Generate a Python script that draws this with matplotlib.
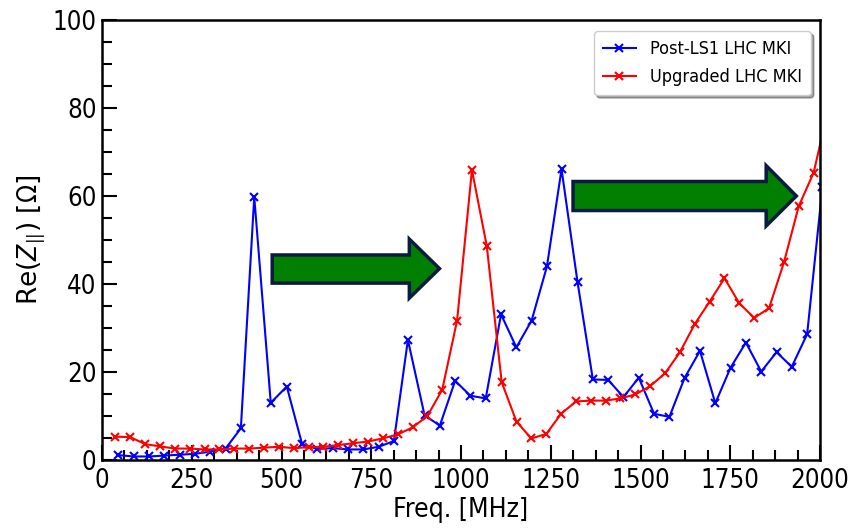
import matplotlib
matplotlib.use("Agg")
import matplotlib.pyplot as plt
from matplotlib.patches import Polygon
from matplotlib.ticker import MultipleLocator

plt.rcParams['font.family'] = ['DejaVu Sans']
plt.rcParams['font.stretch'] = 'condensed'

# Post-LS1 LHC MKI (blue)
freq_post = [45.7, 88.3, 131.0, 173.6, 216.2, 258.9, 301.5, 344.1, 386.7, 424.0,
             470.0, 514.6, 557.3, 599.9, 642.5, 685.2, 727.8, 770.4, 813.0, 852.0,
             898.3, 940.9, 983.6, 1026.2, 1068.8, 1111.5, 1154.1, 1196.7, 1239.3, 1280.0,
             1324.6, 1367.2, 1409.9, 1452.5, 1495.1, 1537.8, 1580.4, 1623.0, 1665.6, 1708.3,
             1750.9, 1793.5, 1836.2, 1878.8, 1921.4, 1964.1, 2006.7]
z_post = [1.1, 0.8, 0.8, 1.0, 1.2, 1.4, 1.9, 2.6, 7.2, 59.8,
          13.0, 16.7, 3.6, 2.5, 2.7, 2.4, 2.4, 3.0, 4.3, 27.3,
          10.2, 7.8, 18.0, 14.6, 14.0, 33.1, 25.6, 31.7, 44.0, 66.1,
          40.4, 18.3, 18.2, 14.3, 18.7, 10.5, 9.8, 18.7, 24.8, 12.9,
          21.0, 26.7, 20.1, 24.5, 21.2, 28.6, 62.0]

# Upgraded LHC MKI (red)
freq_upg = [37.3, 78.7, 120.1, 161.4, 202.8, 244.2, 285.6, 327.0, 368.3, 409.7,
            451.1, 492.5, 533.9, 575.2, 616.6, 658.0, 699.4, 740.8, 782.1, 823.5,
            864.9, 906.3, 947.7, 989.0, 1030.4, 1071.8, 1113.2, 1154.6, 1195.9, 1237.3,
            1278.7, 1320.1, 1361.5, 1402.8, 1444.2, 1485.6, 1527.0, 1568.4, 1609.7, 1651.1,
            1692.5, 1733.9, 1775.3, 1816.6, 1858.0, 1899.4, 1940.8, 1982.2, 2023.6]
z_upg = [5.3, 5.2, 3.6, 3.1, 2.6, 2.6, 2.4, 2.4, 2.6, 2.6,
         2.8, 3.0, 2.7, 2.9, 3.0, 3.4, 3.8, 4.2, 4.9, 5.8,
         7.4, 10.0, 16.0, 31.7, 65.9, 48.6, 17.7, 8.7, 4.9, 5.9,
         10.5, 13.3, 13.5, 13.5, 14.0, 14.9, 16.8, 19.7, 24.5, 30.9,
         36.0, 41.3, 35.6, 32.3, 34.5, 44.9, 57.7, 65.3, 80.0]

labels = ["Post-LS1 LHC MKI", "Upgraded LHC MKI"]

fig = plt.figure(figsize=(8.51, 5.28), dpi=100)
ax = fig.add_axes([0.1199, 0.1288, 0.8437, 0.8333])

ax.plot(freq_post, z_post, color='blue', marker='x', lw=1.5, ms=6, mew=1.5, label=labels[0])
ax.plot(freq_upg, z_upg, color='red', marker='x', lw=1.5, ms=6, mew=1.5, label=labels[1])

ax.set_xlim(0, 2000)
ax.set_ylim(0, 100)
ax.xaxis.set_major_locator(MultipleLocator(250))
ax.xaxis.set_minor_locator(MultipleLocator(62.5))
ax.yaxis.set_major_locator(MultipleLocator(20))
ax.yaxis.set_minor_locator(MultipleLocator(5))
ax.tick_params(which='both', direction='in', top=False, right=False, width=1.5, labelsize=18.5)
ax.tick_params(which='major', length=11)
ax.tick_params(axis='x', which='major', pad=6)
ax.tick_params(axis='y', which='major', pad=4)
ax.tick_params(which='minor', length=7)
for s in ax.spines.values():
    s.set_linewidth(1.8)

ax.set_xlabel("Freq. [MHz]", fontsize=19, labelpad=2)
ax.set_ylabel(r"Re($Z_{||}$) [$\Omega$]", fontsize=19, labelpad=4, fontstretch='normal')

# arrows (axes-fraction coordinates)
def arrow(x0, x1, xt, yb0, yb1, yh0, yh1, yc):
    pts = [(x0, yb0), (x1, yb0), (x1, yh0), (xt, yc), (x1, yh1), (x1, yb1), (x0, yb1)]
    ax.add_patch(Polygon(pts, closed=True, transform=ax.transAxes,
                         facecolor='#007f00', edgecolor='#0b1a40', lw=2.5, zorder=5))

arrow(0.237, 0.428, 0.470, 0.402, 0.466, 0.368, 0.502, 0.435)
arrow(0.656, 0.925, 0.967, 0.567, 0.633, 0.532, 0.669, 0.600)

leg = ax.legend(loc='upper right', fontsize=13, shadow=True, fancybox=True,
                handlelength=1.8, borderpad=0.5, labelspacing=0.55,
                bbox_to_anchor=(1.0, 0.995))

fig.savefig("out.png", dpi=100)
